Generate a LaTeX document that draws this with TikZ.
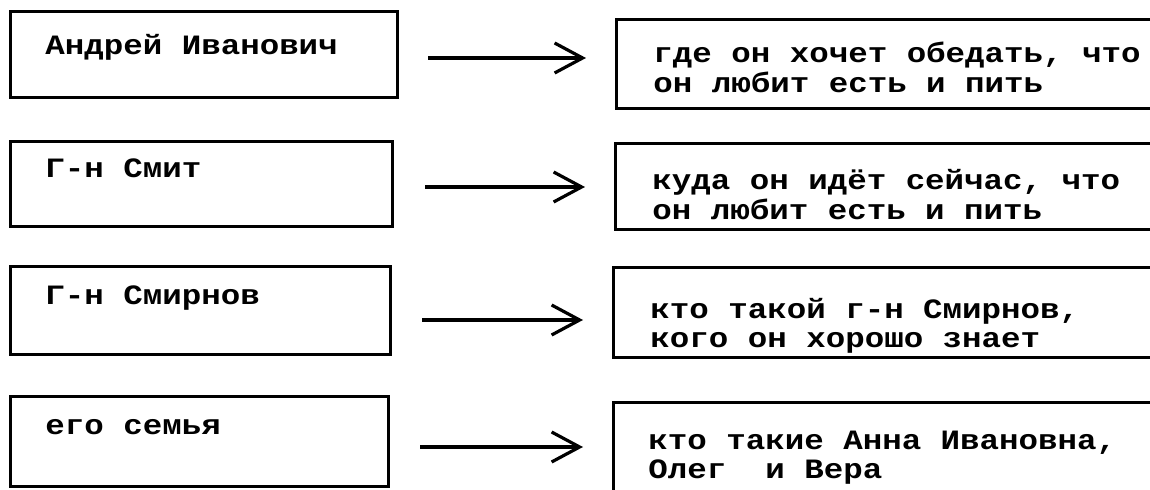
\documentclass[tikz,border=0pt]{standalone}
\usepackage{fontspec}
\setmonofont[FakeStretch=1.16]{Liberation Mono}
\usetikzlibrary{arrows.meta}
\begin{document}
\begin{tikzpicture}[x=0.5pt,y=-0.5pt,
  box/.style={draw=black, line width=1.5pt, inner sep=0pt, outer sep=0pt, anchor=north west},
  txt/.style={anchor=base west, inner sep=0pt, font=\ttfamily\bfseries\fontsize{14}{14}\selectfont},
  arr/.style={line width=1.6pt, -{Straight Barb[length=14pt,width=15pt,line width=1.6pt]}}]
\useasboundingbox (0,0) rectangle (1150,490);
\fill[white] (0,0) rectangle (1150,490);
\begin{scope}
\clip (0,0) rectangle (1150,490);
% left boxes
\node[box, minimum width=193.5pt, minimum height=43pt] (l1) at (10,12) {};
\node[box, minimum width=191pt, minimum height=42.5pt] (l2) at (10,142) {};
\node[box, minimum width=190pt, minimum height=44pt] (l3) at (10,267) {};
\node[box, minimum width=189pt, minimum height=45pt] (l4) at (10,397) {};
% right boxes (run past the right edge)
\node[box, minimum width=282pt, minimum height=44.5pt] (r1) at (616,20) {};
\node[box, minimum width=282pt, minimum height=43pt] (r2) at (615,144) {};
\node[box, minimum width=282pt, minimum height=45pt] (r3) at (613,268) {};
\node[box, minimum width=282pt, minimum height=58.5pt] (r4) at (613,403) {};
% texts
\node[txt] (t1) at (45,55) {Андрей Иванович};
\node[txt] (t2) at (45,178) {Г-н Смит};
\node[txt] (t3) at (45,305) {Г-н Смирнов};
\node[txt] (t4) at (45,435) {его семья};
\node[txt] (u1a) at (653,63) {где он хочет обедать, что};
\node[txt] (u1b) at (653,93) {он любит есть и пить};
\node[txt] (u2a) at (652,190) {куда он идёт сейчас, что};
\node[txt] (u2b) at (652,220) {он любит есть и пить};
\node[txt] (u3a) at (650,319) {кто такой г-н Смирнов,};
\node[txt] (u3b) at (650,348) {кого он хорошо знает};
\node[txt] (u4a) at (648,450) {кто такие Анна Ивановна,};
\node[txt] (u4b) at (648,479) {Олег\ \ и Вера};
% arrows
\coordinate (a1s) at (428,58);  \coordinate (a1e) at (586,58);
\coordinate (a2s) at (425,187); \coordinate (a2e) at (585,187);
\coordinate (a3s) at (422,320); \coordinate (a3e) at (583,320);
\coordinate (a4s) at (420,447); \coordinate (a4e) at (583,447);
\draw[arr] (a1s) -- (a1e);
\draw[arr] (a2s) -- (a2e);
\draw[arr] (a3s) -- (a3e);
\draw[arr] (a4s) -- (a4e);
\end{scope}
\end{tikzpicture}
\end{document}
